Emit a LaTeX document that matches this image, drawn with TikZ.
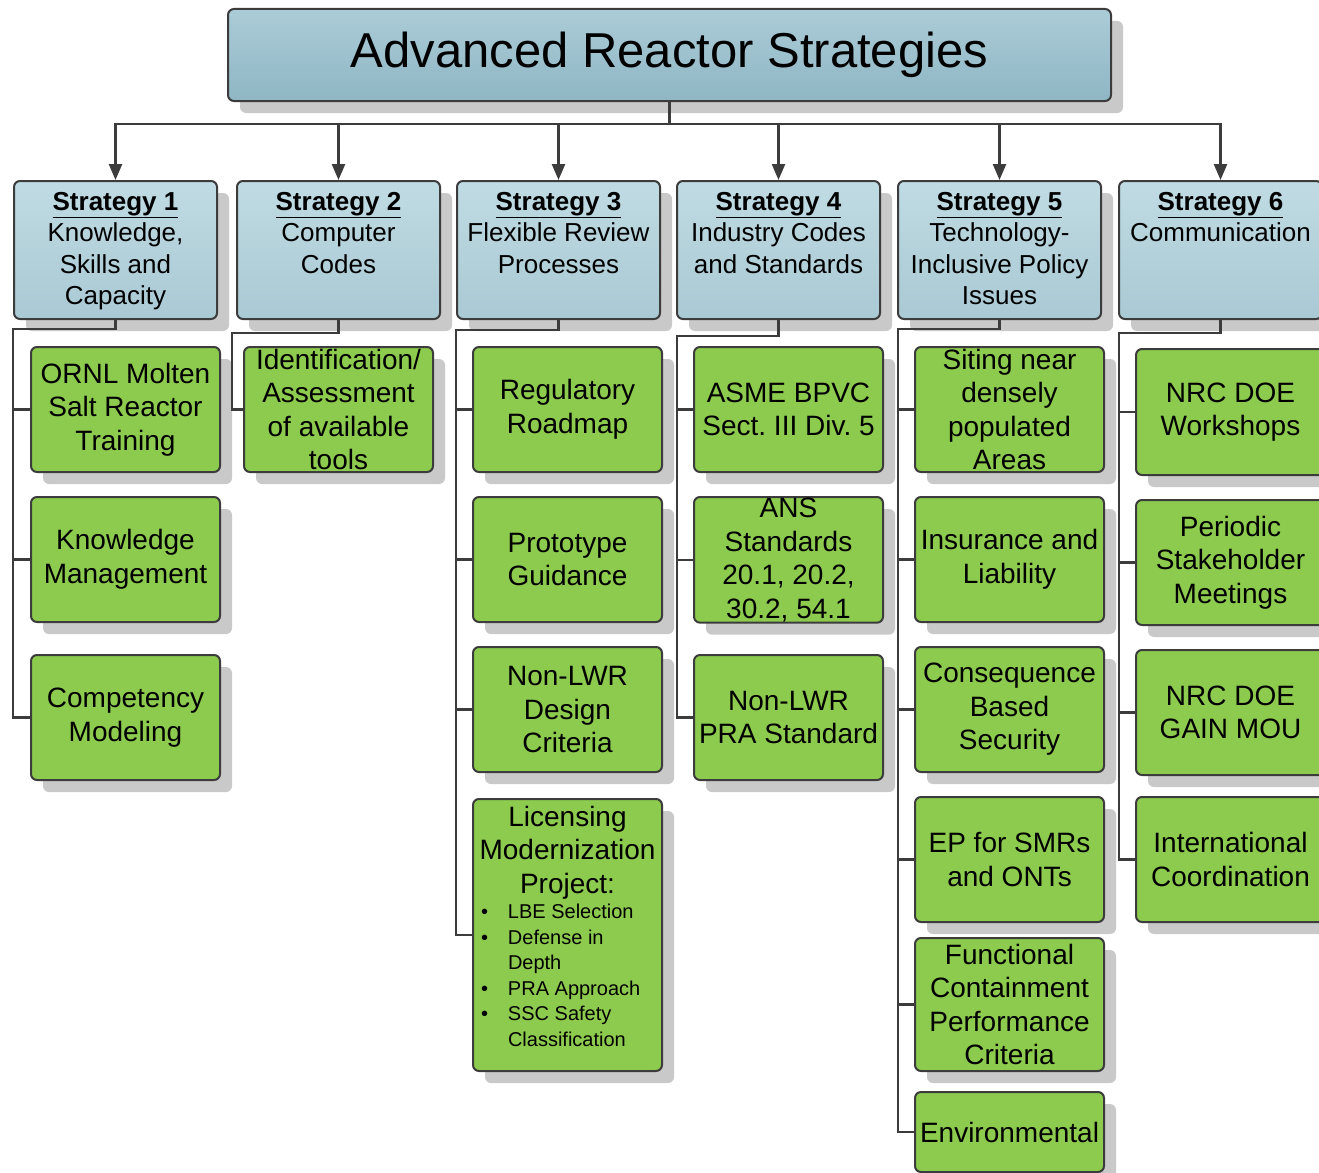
\documentclass[tikz,border=0pt]{standalone}
\usepackage{fontspec}
\setmainfont{Liberation Sans}
\usetikzlibrary{shadows,arrows.meta}
\definecolor{linec}{HTML}{3C3C3C}
\definecolor{gfill}{HTML}{8DCB4E}
\definecolor{tTop}{HTML}{ABCCD7}
\definecolor{tBot}{HTML}{8FB6C4}
\definecolor{sTop}{HTML}{C0DBE3}
\definecolor{sBot}{HTML}{A9C9D4}
\newcommand\sfirst{\rule{0pt}{29pt}}
\newcommand\stxt[1]{\parbox[c][138pt][t]{203pt}{\centering\sfirst #1\par}}
\begin{document}
\begin{tikzpicture}[x=1pt,y=-1pt,
  shad/.style={drop shadow={opacity=1, fill=black!21, shadow xshift=12pt, shadow yshift=-12pt}},
  titlebox/.style={draw=linec, line width=2pt, rounded corners=6pt, top color=tTop, bottom color=tBot,
     minimum width=883pt, minimum height=92pt, inner sep=0pt, shad, font=\fontsize{49}{56}\selectfont},
  sbox/.style={draw=linec, line width=2pt, rounded corners=6pt, top color=sTop, bottom color=sBot,
     inner sep=0pt, anchor=north west, shad, font=\fontsize{26}{31.6}\selectfont},
  gbox/.style={draw=linec, line width=2pt, rounded corners=6pt, fill=gfill, anchor=north west,
     minimum width=189pt, minimum height=125pt, inner sep=1pt, align=center, shad,
     font=\fontsize{28}{33.5}\selectfont},
  conn/.style={draw=linec, line width=2.5pt},
  arr/.style={conn, -{Triangle[length=16pt,width=13pt]}}
]
\useasboundingbox (0,0) rectangle (1319,1172);
\clip (0,0) rectangle (1319,1172);
\fill[white] (0,0) rectangle (1319,1172);

% title
\node[titlebox] (title) at (669.5,55) {Advanced Reactor Strategies};

% strategies
\node[sbox] (s1) at (13,180)   {\stxt{\underline{\textbf{Strategy 1}}\\Knowledge,\\Skills and\\Capacity}};
\node[sbox] (s2) at (236,180)  {\stxt{\underline{\textbf{Strategy 2}}\\Computer\\Codes}};
\node[sbox] (s3) at (456,180)  {\stxt{\underline{\textbf{Strategy 3}}\\Flexible Review\\Processes}};
\node[sbox] (s4) at (676,180)  {\stxt{\underline{\textbf{Strategy 4}}\\Industry Codes\\and Standards}};
\node[sbox] (s5) at (897,180)  {\stxt{\underline{\textbf{Strategy 5}}\\Technology-\\Inclusive Policy\\Issues}};
\node[sbox] (s6) at (1118,180) {\stxt{\underline{\textbf{Strategy 6}}\\Communication}};

% strategy 1
\node[gbox] (c11) at (30,346) {ORNL Molten\\Salt Reactor\\Training};
\node[gbox] (c12) at (30,496) {Knowledge\\Management};
\node[gbox] (c13) at (30,654) {Competency\\Modeling};
% strategy 2
\node[gbox] (c21) at (243,346) {Identification/\\Assessment\\of available\\tools};
% strategy 3
\node[gbox] (c31) at (472,346) {Regulatory\\Roadmap};
\node[gbox] (c32) at (472,496) {Prototype\\Guidance};
\node[gbox] (c33) at (472,646) {Non-LWR\\Design\\Criteria};
\node[gbox, minimum height=272pt, inner xsep=5pt, inner ysep=0pt, align=none] (c34) at (472,798)
 {\parbox[c][270pt][t]{179pt}{%
  {\centering\rule{0pt}{26pt}Licensing\\Modernization\\Project:\par}%
  \raggedright\fontsize{20}{25.5}\selectfont
  \hangindent=30pt\hangafter=1\makebox[30pt][l]{\hspace{3pt}•}LBE Selection\par
  \hangindent=30pt\hangafter=1\makebox[30pt][l]{\hspace{3pt}•}Defense in\newline Depth\par
  \hangindent=30pt\hangafter=1\makebox[30pt][l]{\hspace{3pt}•}PRA Approach\par
  \hangindent=30pt\hangafter=1\makebox[30pt][l]{\hspace{3pt}•}SSC Safety\newline Classification\par}};
% strategy 4
\node[gbox] (c41) at (693,346) {ASME BPVC\\Sect.\ III Div.\ 5};
\node[gbox] (c42) at (693,496) {ANS\\Standards\\20.1, 20.2,\\30.2, 54.1};
\node[gbox] (c43) at (693,654) {Non-LWR\\PRA Standard};
% strategy 5
\node[gbox] (c51) at (914,346) {Siting near\\densely\\populated\\Areas};
\node[gbox] (c52) at (914,496) {Insurance and\\Liability};
\node[gbox] (c53) at (914,646) {Consequence\\Based\\Security};
\node[gbox] (c54) at (914,796) {EP for SMRs\\and ONTs};
\node[gbox, minimum height=133pt] (c55) at (914,937) {Functional\\Containment\\Performance\\Criteria};
\node[gbox, minimum height=80pt] (c56) at (914,1091) {Environmental};
% strategy 6
\node[gbox, minimum height=126pt] (c61) at (1135,348) {NRC DOE\\Workshops};
\node[gbox] (c62) at (1135,499) {Periodic\\Stakeholder\\Meetings};
\node[gbox] (c63) at (1135,649) {NRC DOE\\GAIN MOU};
\node[gbox] (c64) at (1135,796) {International\\Coordination};

% title connectors
\coordinate (hub) at (669.5,124);
\draw[conn] (title.south) -- (hub);
\draw[conn] (115,124) -- (1220,124);
\foreach \s in {s1,s2,s3,s4,s5,s6} \draw[arr] (hub) -| (\s.north);

% trunks
\coordinate (t1) at (13,329);
\coordinate (t2) at (232,333);
\coordinate (t3) at (456,330);
\coordinate (t4) at (677,336);
\coordinate (t5) at (898,329);
\coordinate (t6) at (1119,333);

\draw[conn] (s1.south) |- (t1) |- (c13.west);
\foreach \c in {c11,c12} \draw[conn] (t1) |- (\c.west);
\draw[conn] (s2.south) |- (t2) |- (c21.west);
\draw[conn] (s3.south) |- (t3) |- (c34.west);
\foreach \c in {c31,c32,c33} \draw[conn] (t3) |- (\c.west);
\draw[conn] (s4.south) |- (t4) |- (c43.west);
\foreach \c in {c41,c42} \draw[conn] (t4) |- (\c.west);
\draw[conn] (s5.south) |- (t5) |- (c56.west);
\foreach \c in {c51,c52,c53,c54,c55} \draw[conn] (t5) |- (\c.west);
\draw[conn] (s6.south) |- (t6) |- (c64.west);
\foreach \c in {c61,c62,c63} \draw[conn] (t6) |- (\c.west);
\end{tikzpicture}
\end{document}
